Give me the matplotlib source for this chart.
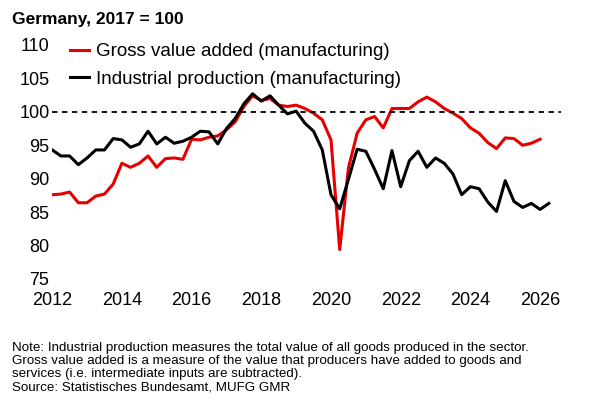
import numpy as np
import matplotlib
matplotlib.use('Agg')
from matplotlib import pyplot as plt

plt.rcParams['font.family'] = ['Liberation Sans', 'DejaVu Sans']

# quarterly, starting 2012 Q1
gva = [87.6, 87.7, 88.0, 86.4, 86.4, 87.4, 87.7, 89.2, 92.3, 91.7, 92.3, 93.4, 91.7, 93.0, 93.1, 92.9,
       95.9, 95.8, 96.2, 96.4, 97.3, 98.5, 100.8, 102.4, 101.7, 102.0, 101.0, 100.8, 101.0,
       100.5, 99.8, 98.8, 95.8, 79.4, 91.6, 96.8, 98.8, 99.3, 97.6, 100.5, 100.5, 100.5, 101.5,
       102.2, 101.5, 100.5, 99.8, 99.0, 97.6, 96.8, 95.4, 94.5, 96.1, 96.0, 95.0, 95.3, 95.9]
ip = [94.3, 93.4, 93.4, 92.1, 93.1, 94.3, 94.3, 96.0, 95.8, 94.7, 95.2, 97.1, 95.2, 96.2, 95.3, 95.6,
      96.2, 97.1, 97.0, 95.2, 97.5, 99.0, 101.2, 102.7, 101.6, 102.4, 101.0, 99.7, 100.1,
      98.3, 97.1, 94.3, 87.6, 85.5, 89.9, 94.4, 94.1, 91.4, 88.5, 94.2, 88.8, 92.7, 94.1,
      91.7, 93.1, 92.3, 90.7, 87.6, 88.8, 88.5, 86.5, 85.1, 89.7, 86.6, 85.7, 86.3, 85.4, 86.3]
t_gva = 2012 + np.arange(len(gva)) * 0.25
t_ip = 2012 + np.arange(len(ip)) * 0.25

fig = plt.figure(figsize=(6, 4), dpi=100)
ax = fig.add_axes([0.087, 0.2775, 0.848, 0.6435])
ax.plot(t_gva, gva, color='#e60000', lw=2.2, label='Gross value added (manufacturing)')
ax.plot(t_ip, ip, color='black', lw=2.2, label='Industrial production (manufacturing)')
ax.axhline(100, color='black', ls=(0, (3, 2.5)), lw=1.3)

ax.set_xlim(2012, 2026.6)
ax.set_ylim(73.5, 112)
ax.set_xticks(range(2012, 2027, 2))
ax.set_yticks(range(75, 111, 5))
ax.tick_params(labelsize=13, length=0, pad=2)
for s in ax.spines.values():
    s.set_visible(False)

ax.legend(loc='upper left', bbox_to_anchor=(0.02, 0.985), frameon=False, fontsize=13.5,
          handlelength=1.0, handletextpad=0.4, labelspacing=0.55, borderaxespad=0)
fig.text(0.02, 0.94, 'Germany, 2017 = 100', fontsize=12.5, fontweight='bold')
fig.text(0.02, 0.025, 'Note: Industrial production measures the total value of all goods produced in the sector.\n'
         'Gross value added is a measure of the value that producers have added to goods and\n'
         'services (i.e. intermediate inputs are subtracted).\n'
         'Source: Statistisches Bundesamt, MUFG GMR', fontsize=9.6, linespacing=1.1)
fig.savefig('out.png')
